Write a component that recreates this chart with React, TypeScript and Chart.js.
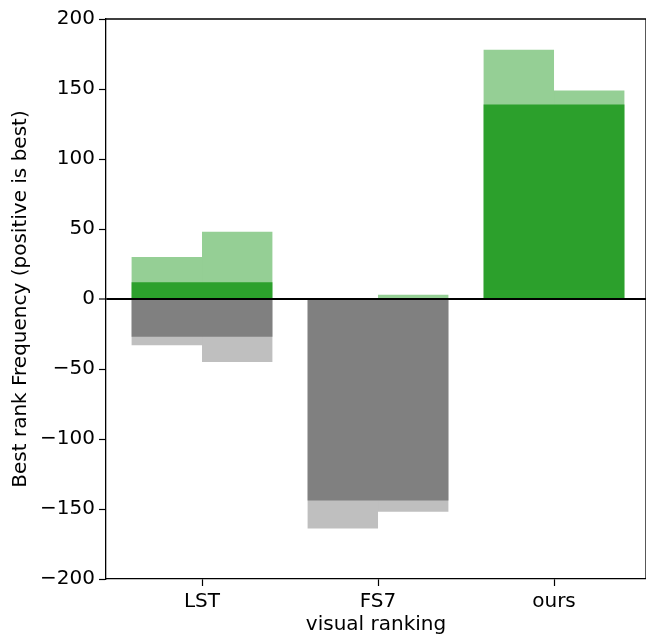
import React, { useEffect, useRef } from 'react';
import { Chart, registerables } from 'chart.js';

Chart.register(...registerables);

// ---- data ----
const categories = ['LST', 'FS7', 'ours'];
const bestAll = [12, 0, 139];          // dark green, full width
const worstAll = [-27, -144, 0];       // dark gray, full width
const bestLeft = [30, 0, 178];         // light green, left half
const bestRight = [48, 3, 149];        // light green, right half
const worstLeft = [-33, -164, 0];      // light gray, left half
const worstRight = [-45, -152, 0];     // light gray, right half
const yTicks = [-200, -150, -100, -50, 0, 50, 100, 150, 200];
const xLabel = 'visual ranking';
const yLabel = 'Best rank Frequency (positive is best)';

const FONT = { family: '"DejaVu Sans", sans-serif', size: 20 };

const pts = (vals: number[], off: number) => vals.map((v, i) => ({ x: i + off, y: v }));

const framePlugin = {
  id: 'frame',
  afterDraw(chart: any) {
    const { ctx, chartArea } = chart;
    ctx.save();
    ctx.strokeStyle = '#000';
    ctx.lineWidth = 1.3;
    ctx.beginPath();
    ctx.moveTo(chartArea.left, chartArea.top);
    ctx.lineTo(chartArea.right, chartArea.top);
    ctx.lineTo(chartArea.right, chartArea.bottom);
    ctx.stroke();
    ctx.restore();
  },
};

export default function App() {
  const ref = useRef<HTMLCanvasElement>(null);
  useEffect(() => {
    if (!ref.current) return;
    const half = { grouped: false, categoryPercentage: 1, barPercentage: 2, borderWidth: 0 };
    const full = { grouped: false, categoryPercentage: 1, barPercentage: 4, borderWidth: 0 };
    const chart = new Chart(ref.current, {
      type: 'bar',
      data: {
        datasets: [
          { ...full, data: pts(bestAll, 0), backgroundColor: '#2ca02c' },
          { ...full, data: pts(worstAll, 0), backgroundColor: '#808080' },
          { ...half, data: pts(bestLeft, -0.2), backgroundColor: 'rgba(44,160,44,0.5)' },
          { ...half, data: pts(bestRight, 0.2), backgroundColor: 'rgba(44,160,44,0.5)' },
          { ...half, data: pts(worstLeft, -0.2), backgroundColor: 'rgba(128,128,128,0.5)' },
          { ...half, data: pts(worstRight, 0.2), backgroundColor: 'rgba(128,128,128,0.5)' },
        ] as any,
      },
      options: {
        responsive: false,
        animation: false,
        layout: { padding: { top: 19, right: 0, bottom: 0, left: 0 } },
        plugins: { legend: { display: false }, tooltip: { enabled: false } },
        scales: {
          x: {
            type: 'linear',
            offset: false,
            min: -0.5455,
            max: 2.5227,
            afterBuildTicks: (s: any) => {
              s.ticks = categories.map((_, i) => ({ value: i }));
            },
            afterFit: (s: any) => {
              s.height = 58;
            },
            ticks: {
              callback: (v: any) => categories[v] ?? '',
              font: FONT,
              color: '#000',
              padding: 4,
              maxRotation: 0,
              autoSkip: false,
            },
            grid: { offset: false, drawOnChartArea: false, tickLength: 7, tickColor: '#000', tickWidth: 1.2 },
            border: { display: true, color: '#000', width: 1.3 },
            title: { display: true, text: xLabel, font: FONT, color: '#000', padding: { top: 0, bottom: 0 } },
          },
          y: {
            type: 'linear',
            min: -200,
            max: 200,
            z: 1,
            afterBuildTicks: (s: any) => {
              s.ticks = yTicks.map((v) => ({ value: v }));
            },
            afterFit: (s: any) => {
              s.width = 106;
            },
            ticks: {
              callback: (v: any) => (v < 0 ? '\u2212' + Math.abs(v) : String(v)),
              font: FONT,
              color: '#000',
              padding: 4,
            },
            grid: {
              color: (c: any) => (c.tick && c.tick.value === 0 ? '#000' : 'rgba(0,0,0,0)'),
              lineWidth: (c: any) => (c.tick && c.tick.value === 0 ? 2 : 1),
              tickLength: 7,
              tickColor: '#000',
              tickWidth: 1.2,
            },
            border: { display: true, color: '#000', width: 1.3 },
            title: { display: true, text: yLabel, font: FONT, color: '#000', padding: { top: 9, bottom: 0 } },
          },
        },
      } as any,
      plugins: [framePlugin],
    });
    return () => chart.destroy();
  }, []);
  return (
    <div style={{ position: 'fixed', left: 0, top: 0, width: 646, height: 637, background: '#fff' }}>
      <canvas ref={ref} width={646} height={637} style={{ display: 'block' }} />
    </div>
  );
}
